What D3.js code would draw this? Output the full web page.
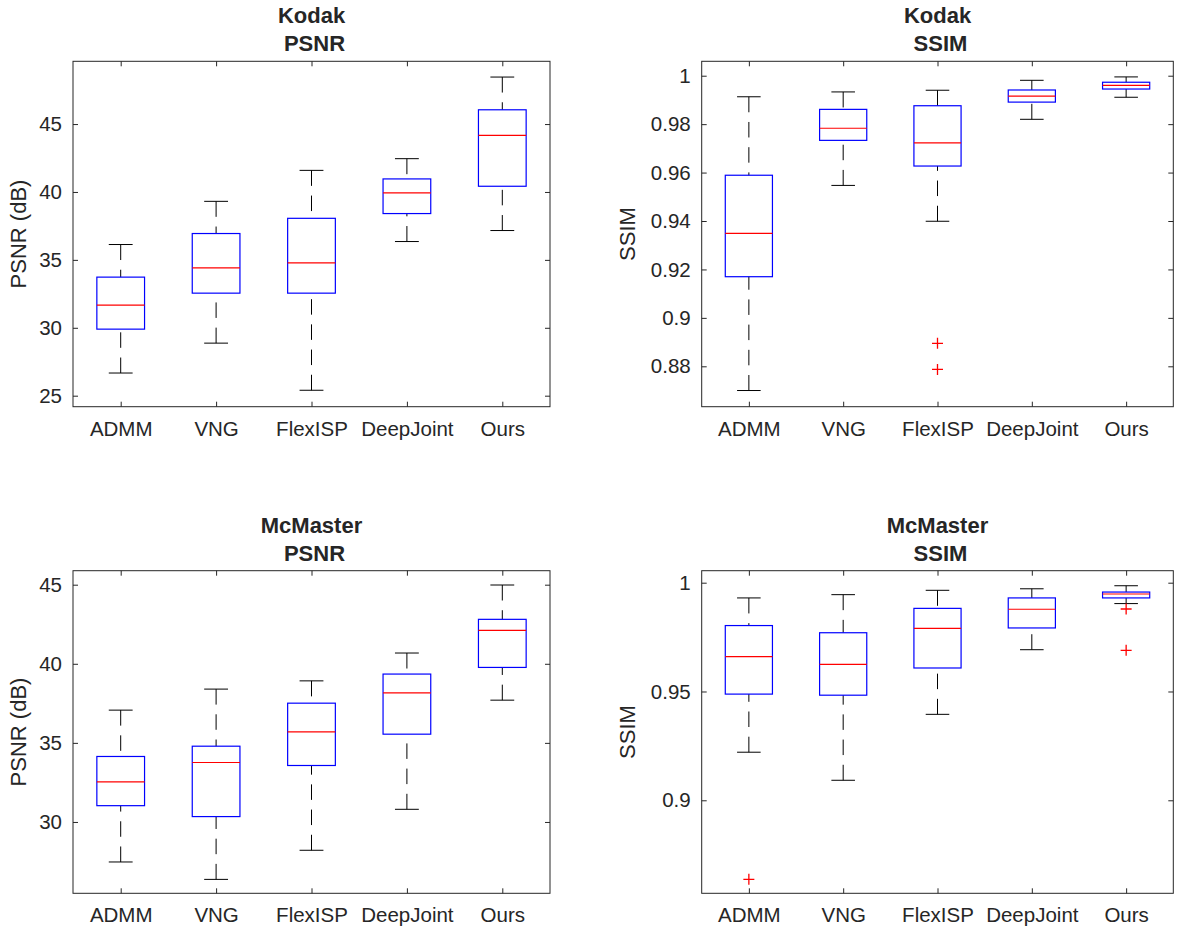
<!DOCTYPE html>
<html>
<head>
<meta charset="utf-8">
<script src="https://cdn.jsdelivr.net/npm/d3@7"></script>
<style>
  body { margin: 0; background: #fff; }
  svg text { font-family: "Liberation Sans", Arial, Helvetica, sans-serif; fill: #262626; }
</style>
</head>
<body>
<svg id="chart" width="1198" height="950"></svg>
<script>
// categorias (metodos)
var methods = ["ADMM", "VNG", "FlexISP", "DeepJoint", "Ours"];

// cada fila: [bigote inferior, Q1, mediana, Q3, bigote superior]
var kodakPsnr = [
  [26.67, 29.90, 31.67, 33.73, 36.13],
  [28.87, 32.55, 34.41, 36.94, 39.31],
  [25.40, 32.55, 34.78, 38.06, 41.59],
  [36.35, 38.41, 39.93, 40.96, 42.45],
  [37.16, 40.42, 44.17, 46.05, 48.46]
];
var kodakPsnrOut = [[], [], [], [], []];

var kodakSsim = [
  [0.8700, 0.9170, 0.9349, 0.9589, 0.9913],
  [0.9547, 0.9733, 0.9783, 0.9861, 0.9933],
  [0.9399, 0.9627, 0.9723, 0.9876, 0.9940],
  [0.9820, 0.9891, 0.9916, 0.9941, 0.9981],
  [0.9911, 0.9945, 0.9960, 0.9973, 0.9995]
];
var kodakSsimOut = [[], [], [0.8895, 0.8787], [], []];

var mcPsnr = [
  [27.47, 31.03, 32.53, 34.14, 37.07],
  [26.37, 30.34, 33.76, 34.79, 38.40],
  [28.21, 33.57, 35.70, 37.51, 38.92],
  [30.80, 35.55, 38.16, 39.35, 40.68],
  [37.70, 39.77, 42.11, 42.81, 44.98]
];
var mcPsnrOut = [[], [], [], [], []];

var mcSsim = [
  [0.9221, 0.9488, 0.9660, 0.9803, 0.9930],
  [0.9092, 0.9483, 0.9625, 0.9770, 0.9945],
  [0.9395, 0.9608, 0.9790, 0.9882, 0.9965],
  [0.9692, 0.9792, 0.9878, 0.9930, 0.9972],
  [0.9904, 0.9930, 0.9948, 0.9957, 0.9986]
];
var mcSsimOut = [[0.8637], [], [], [], [0.9879, 0.9689]];

// marcas del eje y
var kodakPsnrTicks = [25, 30, 35, 40, 45];
var kodakSsimTicks = [0.88, 0.9, 0.92, 0.94, 0.96, 0.98, 1];
var mcPsnrTicks = [30, 35, 40, 45];
var mcSsimTicks = [0.9, 0.95, 1];

var paneles = [
  { t1: "Kodak", t2: "PSNR", ylab: "PSNR (dB)", x0: 73, x1: 550, y0: 61.3, y1: 406.7,
    dom: [24.19, 49.62], ticks: kodakPsnrTicks, stats: kodakPsnr, out: kodakPsnrOut, labX: 26 },
  { t1: "Kodak", t2: "SSIM", ylab: "SSIM", x0: 701.7, x1: 1173.3, y0: 61.3, y1: 406.7,
    dom: [0.86332, 1.00595], ticks: kodakSsimTicks, stats: kodakSsim, out: kodakSsimOut, labX: 635 },
  { t1: "McMaster", t2: "PSNR", ylab: "PSNR (dB)", x0: 73, x1: 550, y0: 570.7, y1: 893.3,
    dom: [25.49, 45.885], ticks: mcPsnrTicks, stats: mcPsnr, out: mcPsnrOut, labX: 26 },
  { t1: "McMaster", t2: "SSIM", ylab: "SSIM", x0: 701.7, x1: 1173.3, y0: 570.7, y1: 893.3,
    dom: [0.85726, 1.00551], ticks: mcSsimTicks, stats: mcSsim, out: mcSsimOut, labX: 635 }
];

var svg = d3.select("#chart");
svg.append("rect").attr("width", 1198).attr("height", 950).attr("fill", "#fff");

paneles.forEach(function(p){
  var x = d3.scalePoint().domain(methods).range([p.x0, p.x1]).padding(0.5);
  var y = d3.scaleLinear().domain(p.dom).range([p.y1, p.y0]);
  var paso = x.step();
  var bw = paso * 0.5;   // ancho de caja
  var cw = paso * 0.25;  // ancho del tope del bigote
  var g = svg.append("g");

  // ejes (marcas hacia adentro)
  var ejeIzq = g.append("g").attr("transform", "translate(" + p.x0 + ",0)")
    .call(d3.axisLeft(y).tickValues(p.ticks).tickFormat(function(d){ return String(d); })
      .tickSizeInner(-5).tickSizeOuter(0).tickPadding(11));
  var ejeDer = g.append("g").attr("transform", "translate(" + p.x1 + ",0)")
    .call(d3.axisRight(y).tickValues(p.ticks).tickFormat("").tickSizeInner(-5).tickSizeOuter(0));
  var ejeInf = g.append("g").attr("transform", "translate(0," + p.y1 + ")")
    .call(d3.axisBottom(x).tickSizeInner(-5).tickSizeOuter(0).tickPadding(0));
  var ejeSup = g.append("g").attr("transform", "translate(0," + p.y0 + ")")
    .call(d3.axisTop(x).tickFormat("").tickSizeInner(-5).tickSizeOuter(0));
  [ejeIzq, ejeDer, ejeInf, ejeSup].forEach(function(e){
    e.select(".domain").remove();
    e.selectAll(".tick line").attr("stroke", "#262626");
    e.selectAll("text").attr("font-size", "20.5px").attr("fill", "#262626")
      .attr("font-family", "Liberation Sans, Arial, Helvetica, sans-serif");
  });
  ejeInf.selectAll("text").attr("dy", null).attr("y", 29);

  g.append("rect")
    .attr("x", p.x0).attr("y", p.y0)
    .attr("width", p.x1 - p.x0).attr("height", p.y1 - p.y0)
    .attr("fill", "none").attr("stroke", "#262626").attr("stroke-width", 1);

  // titulo en dos lineas
  var cx = (p.x0 + p.x1) / 2;
  g.append("text").attr("x", cx).attr("y", p.y0 - 38).attr("text-anchor", "middle")
    .attr("font-size", "22px").attr("font-weight", "bold").attr("fill", "#000").text(p.t1);
  g.append("text").attr("x", cx + 3).attr("y", p.y0 - 10).attr("text-anchor", "middle")
    .attr("font-size", "22px").attr("font-weight", "bold").attr("fill", "#000").text(p.t2);

  // etiqueta del eje y
  g.append("text")
    .attr("transform", "translate(" + p.labX + "," + ((p.y0 + p.y1) / 2) + ") rotate(-90)")
    .attr("text-anchor", "middle").attr("font-size", "22px").text(p.ylab);

  var cajas = g.selectAll(".caja").data(p.stats).enter().append("g").attr("class", "caja");

  // bigotes discontinuos (desde el tope hacia la caja)
  cajas.append("line")
    .attr("x1", function(d, i){ return x(methods[i]); })
    .attr("x2", function(d, i){ return x(methods[i]); })
    .attr("y1", function(d){ return y(d[4]); })
    .attr("y2", function(d){ return y(d[3]); })
    .attr("stroke", "#000").attr("stroke-dasharray", "15.5,9.7");
  cajas.append("line")
    .attr("x1", function(d, i){ return x(methods[i]); })
    .attr("x2", function(d, i){ return x(methods[i]); })
    .attr("y1", function(d){ return y(d[0]); })
    .attr("y2", function(d){ return y(d[1]); })
    .attr("stroke", "#000").attr("stroke-dasharray", "15.5,9.7");

  // topes
  [0, 4].forEach(function(k){
    cajas.append("line")
      .attr("x1", function(d, i){ return x(methods[i]) - cw / 2; })
      .attr("x2", function(d, i){ return x(methods[i]) + cw / 2; })
      .attr("y1", function(d){ return y(d[k]); })
      .attr("y2", function(d){ return y(d[k]); })
      .attr("stroke", "#000");
  });

  // caja
  cajas.append("rect")
    .attr("x", function(d, i){ return x(methods[i]) - bw / 2; })
    .attr("y", function(d){ return y(d[3]); })
    .attr("width", bw)
    .attr("height", function(d){ return y(d[1]) - y(d[3]); })
    .attr("fill", "none").attr("stroke", "#0000ff").attr("stroke-width", 1.2);

  // mediana
  cajas.append("line")
    .attr("x1", function(d, i){ return x(methods[i]) - bw / 2; })
    .attr("x2", function(d, i){ return x(methods[i]) + bw / 2; })
    .attr("y1", function(d){ return y(d[2]); })
    .attr("y2", function(d){ return y(d[2]); })
    .attr("stroke", "#ff0000").attr("stroke-width", 1.2);

  // atipicos '+'
  var pts = [];
  p.out.forEach(function(lista, i){
    lista.forEach(function(v){ pts.push({ m: methods[i], v: v }); });
  });
  g.selectAll(".atipico").data(pts).enter().append("path")
    .attr("class", "atipico")
    .attr("d", function(d){
      var px = x(d.m), py = y(d.v), r = 5.5;
      return "M" + (px - r) + "," + py + "H" + (px + r) + "M" + px + "," + (py - r) + "V" + (py + r);
    })
    .attr("stroke", "#ff0000").attr("stroke-width", 1.3).attr("fill", "none");
});
</script>
</body>
</html>
